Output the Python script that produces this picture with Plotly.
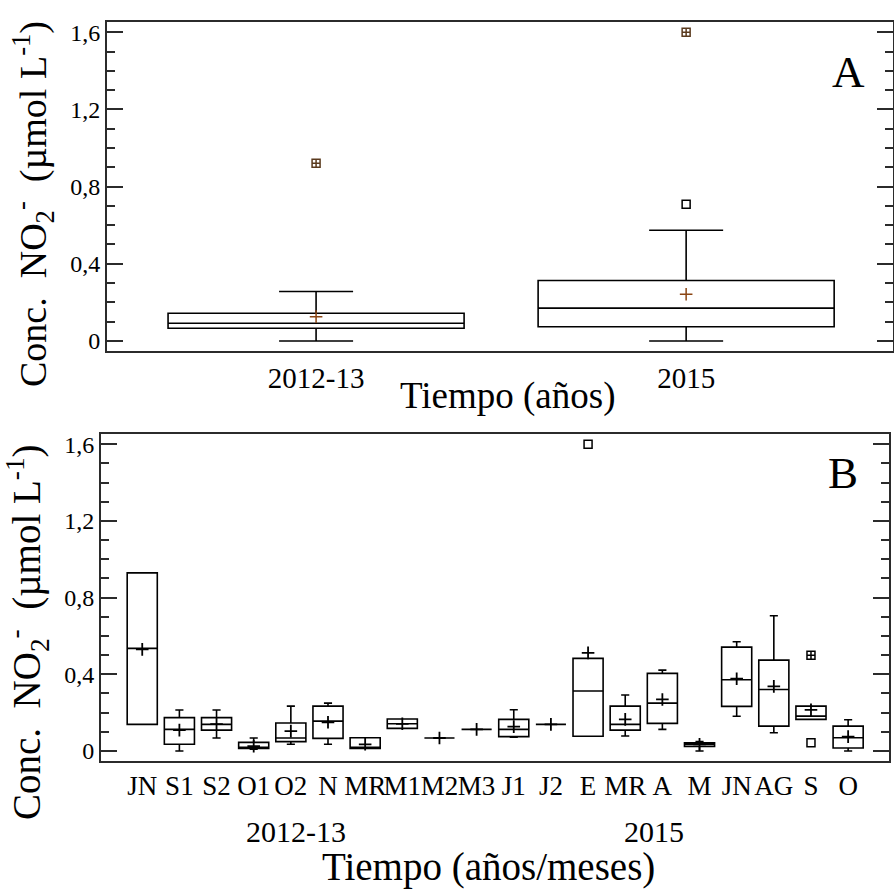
import plotly.graph_objects as go

# ---------------- Panel A data (by year) ----------------
years = ["2012-13", "2015"]
a_q1 = [0.066, 0.074]
a_med = [0.092, 0.170]
a_q3 = [0.144, 0.313]
a_lo = [0.0, 0.0]
a_hi = [0.256, 0.574]
a_mean = [0.126, 0.242]
# outliers: (year index, value)
a_far_idx = [0, 1]
a_far_val = [0.921, 1.600]
a_mild_idx = [1]
a_mild_val = [0.709]

# ---------------- Panel B data (by month) ----------------
months = ["JN", "S1", "S2", "O1", "O2", "N", "MR", "M1", "M2", "M3",
          "J1", "J2", "E", "MR", "A", "M", "JN", "AG", "S", "O"]
groups = ["2012-13"] * 10 + ["2015"] * 10
b_q1 = [0.139, 0.035, 0.109, 0.014, 0.049, 0.066, 0.014, 0.118, 0.068, 0.113,
        0.075, 0.139, 0.077, 0.109, 0.144, 0.024, 0.233, 0.130, 0.165, 0.016]
b_med = [0.535, 0.113, 0.139, 0.020, 0.068, 0.156, 0.016, 0.142, 0.068, 0.113,
         0.113, 0.139, 0.313, 0.139, 0.250, 0.035, 0.372, 0.321, 0.182, 0.069]
b_q3 = [0.929, 0.174, 0.174, 0.045, 0.146, 0.234, 0.069, 0.167, 0.068, 0.113,
        0.165, 0.139, 0.483, 0.234, 0.405, 0.043, 0.542, 0.474, 0.234, 0.130]
b_lo = [0.139, 0.0, 0.068, 0.010, 0.035, 0.035, 0.014, 0.118, 0.068, 0.113,
        0.072, 0.139, 0.077, 0.078, 0.113, 0.0, 0.181, 0.095, 0.165, 0.0]
b_hi = [0.929, 0.214, 0.214, 0.068, 0.234, 0.250, 0.069, 0.167, 0.068, 0.113,
        0.215, 0.139, 0.483, 0.292, 0.422, 0.050, 0.570, 0.705, 0.234, 0.163]
b_mean = [0.530, 0.109, 0.140, 0.025, 0.104, 0.150, 0.035, 0.142, 0.068, 0.113,
          0.127, 0.139, 0.512, 0.165, 0.269, 0.035, 0.377, 0.337, 0.215, 0.075]
b_far_idx = [18]
b_far_val = [0.499]
b_mild_idx = [12, 18]
b_mild_val = [1.600, 0.043]

FONT = "Liberation Serif"
AX = "#2b2b2b"
BROWN = "#8b4513"
NB = "\u00a0"

W, H = 894, 892
def px_x(p):
    return p / W
def px_y(p):
    return 1 - p / H

fig = go.Figure()

a_pos = list(range(len(years)))
b_pos = list(range(len(months)))

# Panel A
fig.add_trace(go.Box(x=a_pos, q1=a_q1, median=a_med, q3=a_q3, lowerfence=a_lo,
                     upperfence=a_hi, width=0.8, whiskerwidth=0.25,
                     line=dict(color="black", width=1.6), fillcolor="rgba(0,0,0,0)",
                     boxpoints=False, showlegend=False, xaxis="x", yaxis="y"))
fig.add_trace(go.Scatter(x=a_pos, y=a_mean, mode="markers", showlegend=False,
                         marker=dict(symbol="cross-thin", size=9,
                                     line=dict(width=1.5, color=BROWN)),
                         xaxis="x", yaxis="y"))
fig.add_trace(go.Scatter(x=a_mild_idx, y=a_mild_val, mode="markers", showlegend=False,
                         marker=dict(symbol="square-open", size=8, color="black",
                                     line=dict(width=1.5, color="black")),
                         xaxis="x", yaxis="y"))
fig.add_trace(go.Scatter(x=a_far_idx, y=a_far_val, mode="markers", showlegend=False,
                         marker=dict(symbol="square-cross-open", size=8, color="#5a3a1e",
                                     line=dict(width=1.5, color="#5a3a1e")),
                         xaxis="x", yaxis="y"))

# Panel B
fig.add_trace(go.Box(x=b_pos, q1=b_q1, median=b_med, q3=b_q3, lowerfence=b_lo,
                     upperfence=b_hi, width=0.81, whiskerwidth=0.27,
                     line=dict(color="black", width=1.6), fillcolor="rgba(0,0,0,0)",
                     boxpoints=False, showlegend=False, xaxis="x2", yaxis="y2"))
fig.add_trace(go.Scatter(x=b_pos, y=b_mean, mode="markers", showlegend=False,
                         marker=dict(symbol="cross-thin", size=9,
                                     line=dict(width=1.8, color="black")),
                         xaxis="x2", yaxis="y2"))
fig.add_trace(go.Scatter(x=b_mild_idx, y=b_mild_val, mode="markers", showlegend=False,
                         marker=dict(symbol="square-open", size=8, color="black",
                                     line=dict(width=1.5, color="black")),
                         xaxis="x2", yaxis="y2"))
fig.add_trace(go.Scatter(x=b_far_idx, y=b_far_val, mode="markers", showlegend=False,
                         marker=dict(symbol="square-cross-open", size=8, color="black",
                                     line=dict(width=1.5, color="black")),
                         xaxis="x2", yaxis="y2"))

yax = dict(range=[-0.052, 1.653], dtick=0.4, tick0=0, ticks="inside", ticklen=16,
           tickwidth=1.6, tickcolor=AX, showline=True, linecolor=AX, linewidth=2,
           mirror="allticks", showgrid=False, zeroline=False,
           tickfont=dict(family=FONT, size=24, color="black"),
           minor=dict(dtick=0.1, tick0=0, ticks="inside", ticklen=8,
                      tickwidth=1.6, tickcolor=AX, showgrid=False))

fig.update_layout(
    width=W, height=H, margin=dict(l=0, r=0, t=0, b=0),
    paper_bgcolor="white", plot_bgcolor="white", separators=",.",
    template="none",
    xaxis=dict(domain=[px_x(107), px_x(893)], anchor="y", range=[-0.565, 1.559],
               tickvals=a_pos, ticktext=years, ticks="", showline=True, linecolor=AX,
               linewidth=2, mirror=True, showgrid=False, zeroline=False,
               tickfont=dict(family=FONT, size=29, color="black")),
    yaxis=dict(domain=[px_y(351), px_y(22)], anchor="x", **yax),
    xaxis2=dict(domain=[px_x(101), px_x(889)], anchor="y2", range=[-1.11, 20.10],
                tickvals=b_pos, ticktext=months, ticks="", tickangle=0, showline=True,
                linecolor=AX, linewidth=2, mirror=True, showgrid=False, zeroline=False,
                tickfont=dict(family=FONT, size=27, color="black")),
    yaxis2=dict(domain=[px_y(761), px_y(434)], anchor="x2", **yax),
)

ytitle = ("Conc." + NB * 2 + "NO<sub>2</sub><sup>-</sup>" + NB * 2 +
          "(µmol L<sup>-1</sup>)")
ann = [
    dict(text=ytitle, x=px_x(33), y=px_y(204), textangle=-90, font_size=38),
    dict(text=ytitle, x=px_x(27), y=px_y(632), textangle=-90, font_size=39),
    dict(text="Tiempo (años)", x=px_x(508), y=px_y(396), font_size=37),
    dict(text="Tiempo (años/meses)", x=px_x(488), y=px_y(867), font_size=39),
    dict(text="A", x=px_x(848), y=px_y(72), font_size=45),
    dict(text="B", x=px_x(843), y=px_y(473), font_size=45),
]
# group labels under panel B month ticks
g_centers = {"2012-13": 296, "2015": 654}
for g in ["2012-13", "2015"]:
    ann.append(dict(text=g, x=px_x(g_centers[g]), y=px_y(831), font_size=30))

for a in ann:
    fig.add_annotation(xref="paper", yref="paper", showarrow=False,
                       xanchor="center", yanchor="middle",
                       font=dict(family=FONT, size=a.pop("font_size"), color="black"),
                       **a)

fig.write_html("out.html")
